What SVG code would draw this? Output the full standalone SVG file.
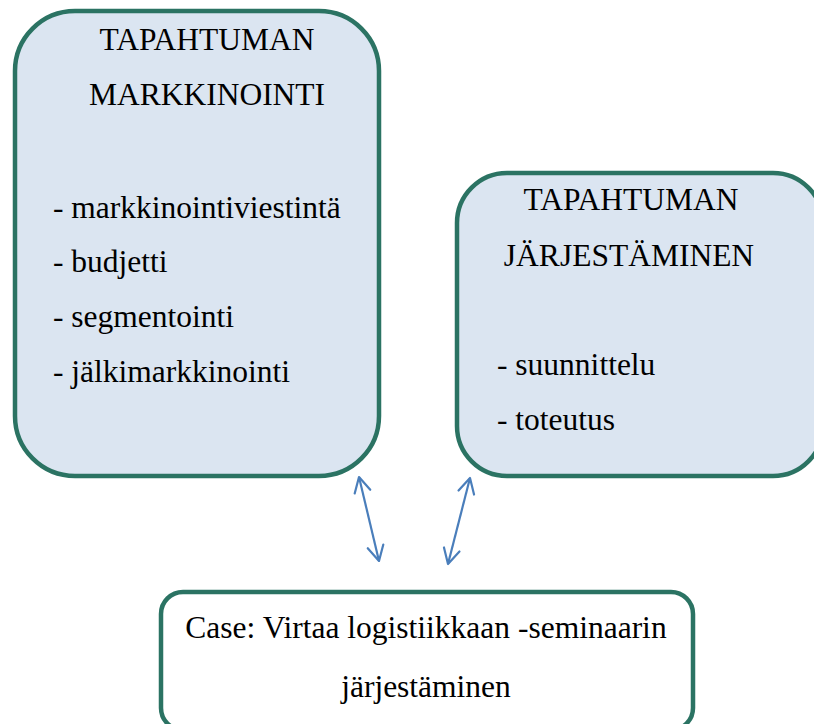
<svg xmlns="http://www.w3.org/2000/svg" width="814" height="724" viewBox="0 0 814 724">
<style>
.box{fill:#dbe5f1;stroke:#2b7363;stroke-width:4.5}
.wbox{fill:#ffffff;stroke:#2b7363;stroke-width:4.5}
.t{font-family:'Liberation Serif','Times New Roman',Tinos,'DejaVu Serif',serif;font-size:31.5px;fill:#000}
.c{text-anchor:middle}
.conn{stroke:#4a7ebb;stroke-width:2.2;fill:none}
</style>
<defs>
<marker id="ah" viewBox="0 0 20 20" refX="17" refY="10" markerWidth="20" markerHeight="20" markerUnits="userSpaceOnUse" orient="auto-start-reverse">
<path d="M2,2 L17,10 L2,18" fill="none" stroke="#4a7ebb" stroke-width="2.2" stroke-linecap="round" stroke-linejoin="round"/>
</marker>
</defs>
<g id="markkinointi">
<rect class="box" x="15" y="11" width="364" height="465" rx="60" ry="60"/>
<text class="t c" x="207" y="50">TAPAHTUMAN</text>
<text class="t c" x="207" y="105">MARKKINOINTI</text>
<text class="t" x="53" y="218">- markkinointiviestintä</text>
<text class="t" x="53" y="272">- budjetti</text>
<text class="t" x="53" y="327">- segmentointi</text>
<text class="t" x="53" y="382">- jälkimarkkinointi</text>
</g>
<g id="jarjestaminen">
<rect class="box" x="457" y="173" width="366" height="303" rx="50" ry="50"/>
<text class="t c" x="631" y="210">TAPAHTUMAN</text>
<text class="t c" x="629" y="266">JÄRJESTÄMINEN</text>
<text class="t" x="497" y="375">- suunnittelu</text>
<text class="t" x="497" y="430">- toteutus</text>
</g>
<g id="case">
<rect class="wbox" x="161" y="592" width="532" height="138" rx="22" ry="22"/>
<text class="t c" x="426" y="638">Case: Virtaa logistiikkaan -seminaarin</text>
<text class="t c" x="426" y="697">järjestäminen</text>
</g>
<g id="connectors">
<line class="conn" x1="359" y1="477" x2="379" y2="561" marker-start="url(#ah)" marker-end="url(#ah)"/>
<line class="conn" x1="470" y1="478" x2="448" y2="564" marker-start="url(#ah)" marker-end="url(#ah)"/>
</g>
</svg>
